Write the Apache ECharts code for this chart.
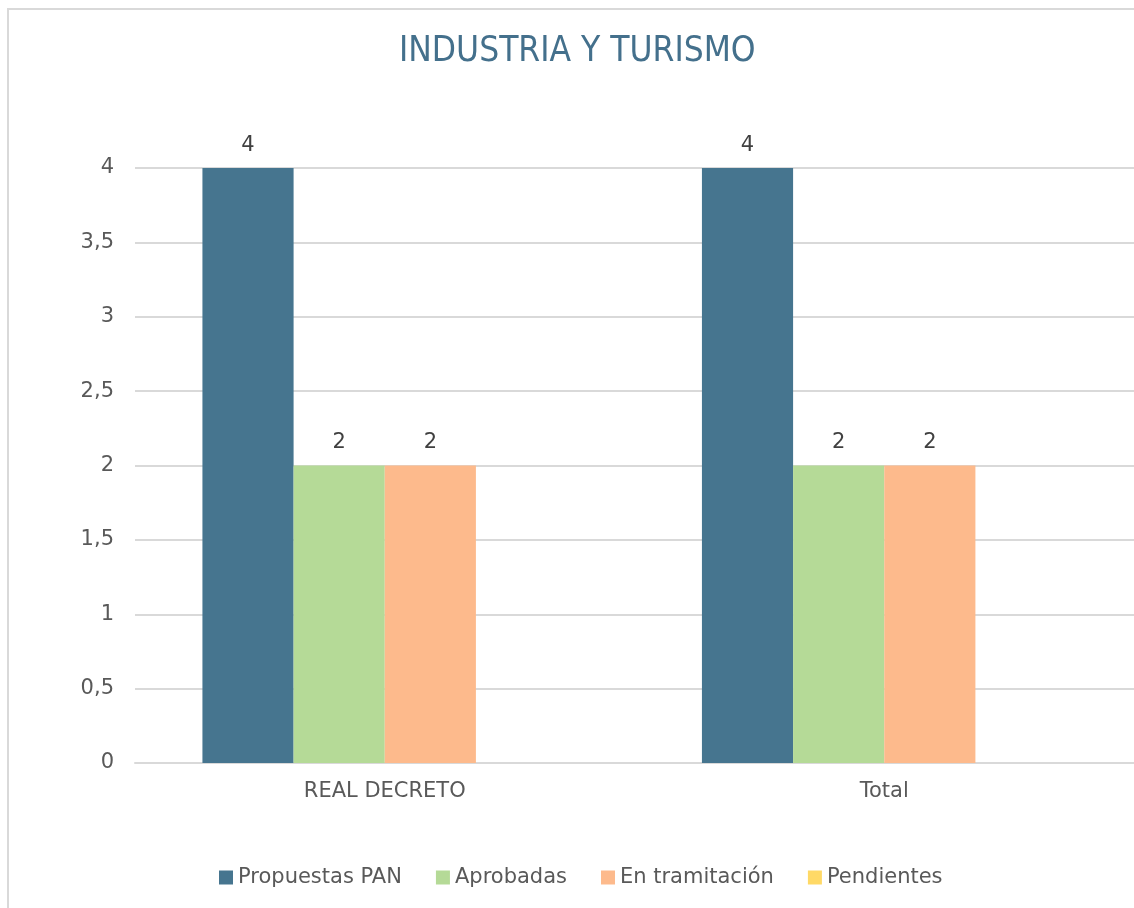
<!DOCTYPE html>
<html>
<head>
<meta charset="utf-8">
<script src="https://cdn.jsdelivr.net/npm/echarts@6/dist/echarts.min.js"></script>
<style>
  html, body { margin: 0; padding: 0; background: #fff; overflow: hidden; width: 1134px; height: 908px; }
  #frame {
    position: absolute; left: 7px; top: 8px; width: 1127px; height: 900px;
    border-left: 2px solid #d9d9d9; border-top: 2px solid #d9d9d9; box-sizing: border-box;
  }
  #chart-container { position: absolute; left: 0; top: 0; width: 1134px; height: 908px; }
</style>
</head>
<body>
<div id="frame"></div>
<div id="chart-container"></div>
<script>
// Datos
var categories = ["REAL DECRETO", "Total"];
var propuestas = [4, 4];
var aprobadas = [2, 2];
var enTramitacion = [2, 2];
var pendientes = [null, null];
var yTicks = [0, 0.5, 1, 1.5, 2, 2.5, 3, 3.5, 4];

var textFont = "DejaVu Sans";
var textColor = "#595959";

var chartDom = document.getElementById("chart-container");
var myChart = echarts.init(chartDom);

function barSeries(name, data, color) {
  return {
    name: name,
    type: "bar",
    data: data,
    barGap: 0,
    barCategoryGap: "27%",
    itemStyle: { color: color },
    label: {
      show: true,
      position: "top",
      distance: 12,
      color: "#404040",
      fontFamily: textFont,
      fontSize: 21
    }
  };
}

var option = {
  animation: false,
  title: {
    text: "INDUSTRIA Y TURISMO",
    left: 394,
    top: 29,
    textStyle: {
      fontFamily: "Liberation Sans Narrow, DejaVu Sans Condensed, sans-serif",
      fontWeight: "normal",
      fontSize: 35,
      color: "#44708c"
    }
  },
  legend: {
    bottom: 15,
    left: 214,
    itemWidth: 14,
    itemHeight: 14,
    itemGap: 34,
    icon: "rect",
    textStyle: { fontFamily: textFont, fontSize: 21, color: textColor },
    data: ["Propuestas PAN", "Aprobadas", "En tramitación", "Pendientes"]
  },
  grid: { left: 135, right: 0, top: 168, bottom: 145 },
  xAxis: {
    type: "category",
    data: categories,
    axisTick: { show: false },
    axisLine: { lineStyle: { color: "#d9d9d9", width: 2 } },
    axisLabel: { fontFamily: textFont, fontSize: 21, color: textColor, margin: 18 }
  },
  yAxis: {
    type: "value",
    min: yTicks[0],
    max: yTicks[yTicks.length - 1],
    interval: 0.5,
    axisLine: { show: false },
    axisTick: { show: false },
    splitLine: { lineStyle: { color: "#d9d9d9", width: 2 } },
    axisLabel: {
      fontFamily: textFont,
      fontSize: 21,
      color: textColor,
      margin: 21,
      formatter: function (v) { return String(v).replace(".", ","); }
    }
  },
  series: [
    barSeries("Propuestas PAN", propuestas, "#46758f"),
    barSeries("Aprobadas", aprobadas, "#b5da97"),
    barSeries("En tramitación", enTramitacion, "#fdba8c"),
    barSeries("Pendientes", pendientes, "#ffd966")
  ]
};

option && myChart.setOption(option);

window.addEventListener("resize", function () {
  myChart.resize();
});
</script>
</body>
</html>
